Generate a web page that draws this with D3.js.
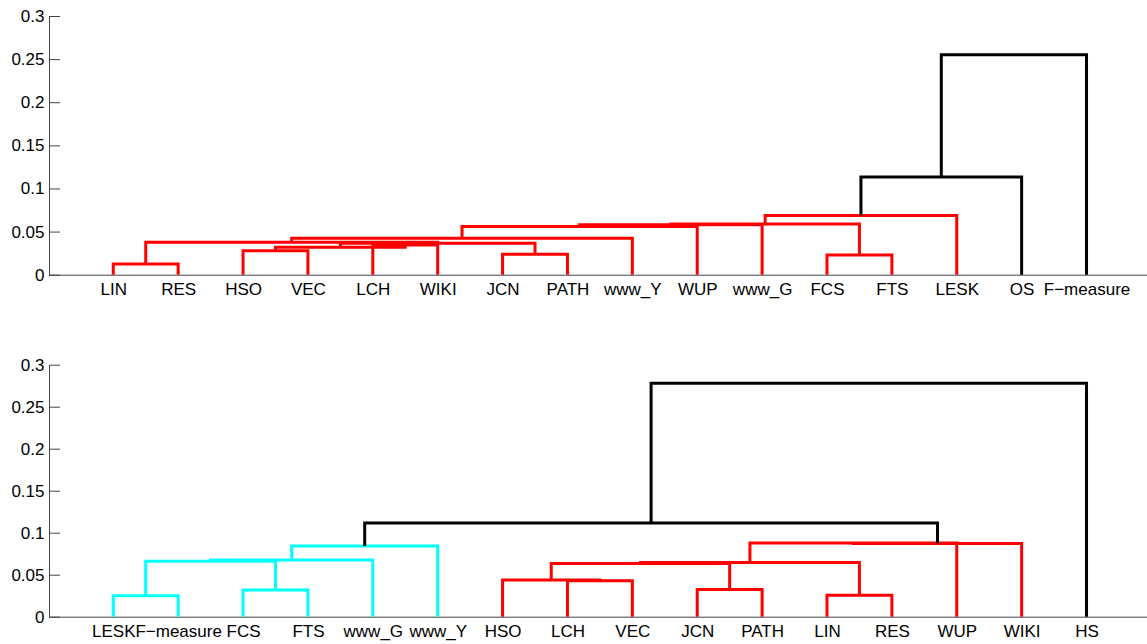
<!DOCTYPE html>
<html>
<head>
<meta charset="utf-8">
<script src="https://cdn.jsdelivr.net/npm/d3@7"></script>
<style>
  body { margin: 0; background: #fff; }
  svg { display: block; font-family: "Liberation Sans", Arial, Helvetica, sans-serif; }
</style>
</head>
<body>
<svg id="chart" width="1147" height="644"></svg>
<script>
// y axis ticks shared by both panels
const yTicks = [0, 0.05, 0.1, 0.15, 0.2, 0.25, 0.3];

// top dendrogram: leaf labels in display order
const topLabels = ["LIN", "RES", "HSO", "VEC", "LCH", "WIKI", "JCN", "PATH",
  "www_Y", "WUP", "www_G", "FCS", "FTS", "LESK", "OS", "F\u2212measure"];
// linkage rows [a, b, height]; leaves are 1..16, row k makes node 16 + k
const topLinkage = [
  [1, 2, 0.0124],
  [12, 13, 0.0229],
  [7, 8, 0.0237],
  [3, 4, 0.0279],
  [5, 6, 0.0345],
  [20, 21, 0.0319],
  [22, 19, 0.0365],
  [17, 23, 0.0377],
  [24, 9, 0.0423],
  [25, 10, 0.0558],
  [26, 11, 0.0578],
  [27, 18, 0.0587],
  [28, 14, 0.0686],
  [29, 15, 0.1133],
  [30, 16, 0.2551]
];

// bottom dendrogram
const bottomLabels = ["LESK", "F\u2212measure", "FCS", "FTS", "www_G", "www_Y",
  "HSO", "LCH", "VEC", "JCN", "PATH", "LIN", "RES", "WUP", "WIKI", "HS"];
const bottomLinkage = [
  [1, 2, 0.0250],
  [12, 13, 0.0254],
  [3, 4, 0.0318],
  [10, 11, 0.0325],
  [8, 9, 0.0428],
  [7, 21, 0.0436],
  [22, 20, 0.0632],
  [23, 18, 0.0645],
  [24, 14, 0.0878],
  [25, 15, 0.0872],
  [17, 19, 0.0661],
  [27, 5, 0.0675],
  [28, 6, 0.0842],
  [29, 26, 0.1115],
  [30, 16, 0.2778]
];

const colorThreshold = 0.1;
const clusterColors = ["#ff0000", "#00ffff"];

const svg = d3.select("#chart");

function drawDendrogram(labels, linkage, top, bottom) {
  const n = labels.length;
  const x = d3.scaleLinear().domain([0, n + 1]).range([48.4, 1151.4]);
  const y = d3.scaleLinear().domain([0, 0.3]).range([bottom, top]);

  // node positions / heights
  const nodeX = d3.range(n).map(i => i + 1);
  const nodeH = d3.range(n).map(() => 0);
  const parent = [];
  linkage.forEach(([a, b, h], k) => {
    nodeX.push((nodeX[a - 1] + nodeX[b - 1]) / 2);
    nodeH.push(h);
    parent[a - 1] = n + k;
    parent[b - 1] = n + k;
  });

  // colour clusters under the threshold
  const linkColor = linkage.map(() => "#000");
  let ci = 0;
  linkage.forEach(([a, b, h], k) => {
    const p = parent[n + k];
    const isRoot = h < colorThreshold && (p === undefined || nodeH[p] >= colorThreshold);
    if (!isRoot) return;
    const col = clusterColors[ci++ % clusterColors.length];
    const stack = [k];
    while (stack.length) {
      const j = stack.pop();
      linkColor[j] = col;
      linkage[j].slice(0, 2).forEach(c => { if (c > n) stack.push(c - n - 1); });
    }
  });

  const g = svg.append("g");

  // x axis line + leaf labels
  g.append("g")
    .attr("transform", `translate(0,${bottom})`)
    .call(d3.axisBottom(x)
      .tickValues(d3.range(1, n + 1))
      .tickFormat(i => labels[i - 1])
      .tickSize(0)
      .tickPadding(8.5)
      .tickSizeOuter(0))
    .call(s => s.select(".domain").attr("stroke", "#444"))
    .call(s => s.selectAll("text").attr("fill", "#000").style("font-size", "17px").attr("font-family", null));

  // y axis, ticks pointing inward
  g.append("g")
    .attr("transform", "translate(49,0)")
    .call(d3.axisLeft(y)
      .tickValues(yTicks)
      .tickFormat(d => String(d))
      .tickSize(-11)
      .tickPadding(4.5)
      .tickSizeOuter(0))
    .call(s => s.select(".domain").attr("stroke", "#444"))
    .call(s => s.selectAll(".tick line").attr("stroke", "#444"))
    .call(s => s.selectAll("text").attr("fill", "#000").style("font-size", "17px").attr("font-family", null));

  const line = d3.line().x(p => x(p[0])).y(p => y(p[1]));

  g.append("g")
    .selectAll("path")
    .data(linkage)
    .enter()
    .append("path")
    .attr("d", ([a, b, h]) => line([
      [nodeX[a - 1], nodeH[a - 1]],
      [nodeX[a - 1], h],
      [nodeX[b - 1], h],
      [nodeX[b - 1], nodeH[b - 1]]
    ]))
    .attr("fill", "none")
    .attr("stroke", (d, k) => linkColor[k])
    .attr("stroke-width", 3)
    .attr("stroke-linejoin", "miter");
}

drawDendrogram(topLabels, topLinkage, 16, 274.7);
drawDendrogram(bottomLabels, bottomLinkage, 364.7, 616.7);
</script>
</body>
</html>
